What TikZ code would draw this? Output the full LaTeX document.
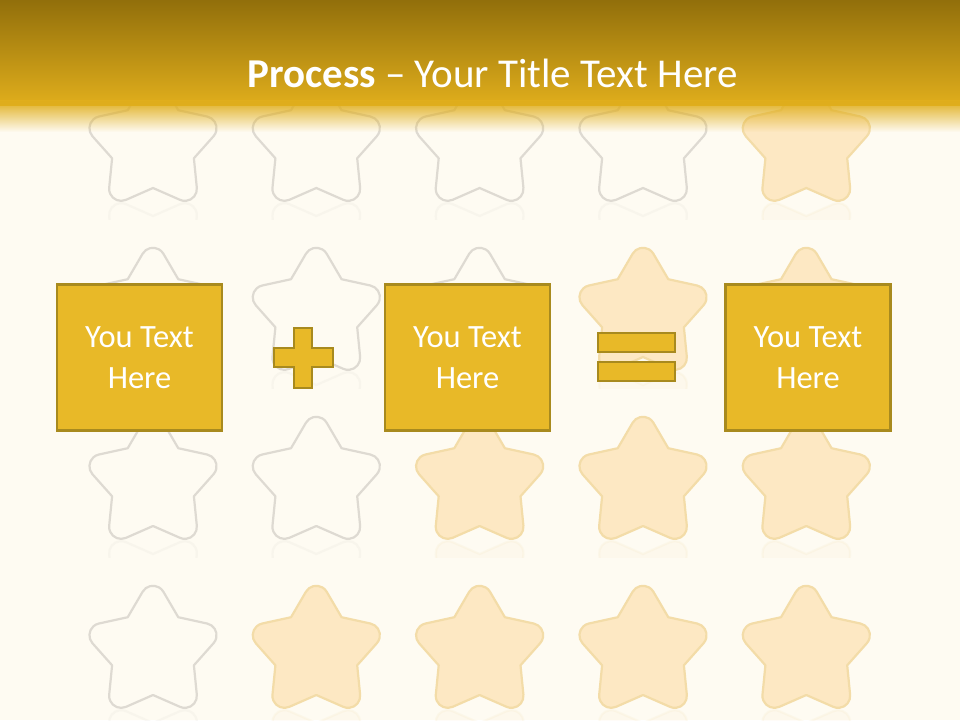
\documentclass[tikz,border=0pt]{standalone}
\usepackage{fontspec}
\setmainfont{Carlito}
\usetikzlibrary{fadings}
\definecolor{bg}{HTML}{FEFBF2}
\definecolor{hdrtop}{HTML}{8E6C0A}
\definecolor{hdrbot}{HTML}{E0AE1C}
\definecolor{starline}{HTML}{DEDAD2}
\definecolor{starfill}{HTML}{FDE8C3}
\definecolor{starfillline}{HTML}{F3DCA8}
\definecolor{boxfill}{HTML}{E8B928}
\definecolor{boxline}{HTML}{A88A1E}
\tikzfading[name=fadedown, top color=transparent!0, bottom color=transparent!100]
% star with round tips (radius 12) and sharp inner vertices
\newcommand\drawstar[3]{%
  \draw[shift={(#2,#3)},#1,line join=round]
    (99.75:61.17)
    \foreach \t in {90,18,-54,-126,-198}{
      arc[start angle=\t+59.68, end angle=\t-59.68, radius=12]
      -- (\t-36:43) -- (\t-62.25:61.17)}
    -- cycle;}
\begin{document}
\begin{tikzpicture}[x=1pt,y=1pt,
  outstar/.style={draw=starline, line width=2.2pt, fill=bg},
  fillstar/.style={draw=starfillline, line width=2.2pt, fill=starfill},
  txtbox/.style={draw=boxline, line width=2.5pt, fill=boxfill,
    minimum width=165pt, minimum height=146pt, text=white,
    font=\fontsize{32.5}{41}\selectfont, align=center, inner sep=0pt},
  sym/.style={draw=boxline, line width=2pt, fill=boxfill}]
\useasboundingbox (0,0) rectangle (960,-720);
\fill[bg] (0,0) rectangle (960,-720);
% stars
\foreach \r/\cy in {1/145,2/314,3/483,4/652}{
  \foreach \c/\cx in {1/153,2/316.3,3/479.6,4/643,5/806.3}{
    \pgfmathtruncatemacro\filled{(\c+\r)>=6}
    \ifnum\filled=1
      \drawstar{fillstar}{\cx}{-\cy}
      \begin{scope}
        \clip (\cx-80,-\cy-57) rectangle (\cx+80,-\cy-74);
        \drawstar{fillstar,opacity=0.12,rotate=180}{\cx}{-\cy-114}
      \end{scope}
    \else
      \drawstar{outstar}{\cx}{-\cy}
      \begin{scope}
        \clip (\cx-80,-\cy-57) rectangle (\cx+80,-\cy-74);
        \drawstar{outstar,opacity=0.18,rotate=180}{\cx}{-\cy-114}
      \end{scope}
    \fi
  }
}
% header
\shade[top color=hdrtop, bottom color=hdrbot] (-5,5) rectangle (965,-105);
\fill[hdrbot, path fading=fadedown] (-20,-100) rectangle (980,-132);
\node[text=white, font=\fontsize{41}{49}\selectfont, anchor=base, inner sep=0pt]
  (title) at (492.5,-87) {\textbf{Process} – Your Title Text Here};
% boxes
\node[txtbox] (b1) at (139.5,-357.5) {You Text\\Here};
\node[txtbox] (b2) at (467.5,-357.5) {You Text\\Here};
\node[txtbox] (b3) at (808,-357.5) {You Text\\Here};
% plus
\draw[sym] (294,-328) -- (312,-328) -- (312,-348) -- (333,-348) -- (333,-367)
  -- (312,-367) -- (312,-388) -- (294,-388) -- (294,-367) -- (274,-367)
  -- (274,-348) -- (294,-348) -- cycle;
% equals
\draw[sym] (598,-333) rectangle (675,-352);
\draw[sym] (598,-362) rectangle (675,-381);
\end{tikzpicture}
\end{document}
